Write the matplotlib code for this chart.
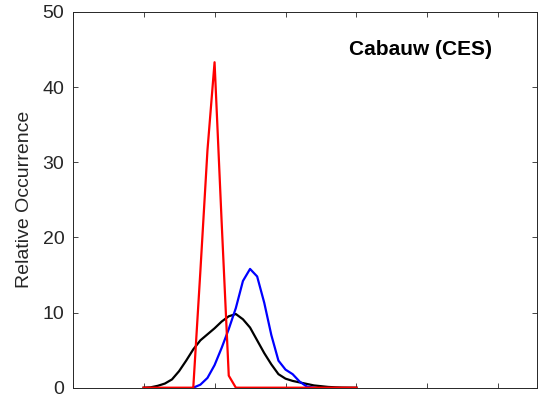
import matplotlib.pyplot as plt
import numpy as np

plt.rcParams['font.family'] = ['Liberation Sans', 'DejaVu Sans']

# bin centres (0.1 step) and relative occurrence of each curve
x_black = np.round(np.arange(1.0, 4.01, 0.1), 2)
black = [0, 0.05, 0.25, 0.55, 1.1, 2.2, 3.6, 5.1, 6.3, 7.1, 7.9,
         8.8, 9.5, 9.8, 9.1, 8.0, 6.3, 4.6, 3.1, 1.8, 1.2,
         0.9, 0.7, 0.5, 0.3, 0.2, 0.1, 0.05, 0.02, 0.01, 0]

x_blue = np.round(np.arange(1.7, 3.41, 0.1), 2)
blue = [0, 0.4, 1.3, 3.0, 5.3, 7.8, 10.6, 14.2, 15.8, 14.8,
        11.3, 7.0, 3.6, 2.4, 1.8, 0.8, 0.15, 0]

x_red = np.round(np.arange(1.0, 4.01, 0.1), 2)
red = [0, 0, 0, 0, 0, 0, 0, 0, 15.5, 31.6, 43.3, 22.0, 1.6,
       0, 0, 0, 0, 0, 0, 0, 0, 0, 0, 0, 0, 0, 0, 0, 0, 0, 0]

grey = '#262626'

fig = plt.figure(figsize=(5.38, 3.96), dpi=100)
ax = fig.add_axes([0.135, 0.021, 0.864, 0.949])

ax.plot(x_black, black, color='k', lw=1.6)
ax.plot(x_blue, blue, color=(0, 0, 1), lw=1.6)
ax.plot(x_red, red, color=(1, 0, 0), lw=1.6)

ax.set_xlim(0, 6.55)
ax.set_ylim(0, 50)
ax.set_xticks(range(0, 7))
ax.set_xticklabels([])
ax.set_yticks(range(0, 51, 10))
ax.tick_params(direction='in', length=3.3, width=0.6, colors=grey,
               labelsize=14, top=True, right=True, pad=6)
for s in ax.spines.values():
    s.set_color(grey)
    s.set_linewidth(0.7)

ax.set_ylabel('Relative Occurrence', fontsize=14, color=grey, labelpad=7)
ax.text(0.748, 0.9, 'Cabauw (CES)', transform=ax.transAxes,
        ha='center', va='center', fontsize=15, fontweight='bold')

fig.savefig('out.png', dpi=100)
